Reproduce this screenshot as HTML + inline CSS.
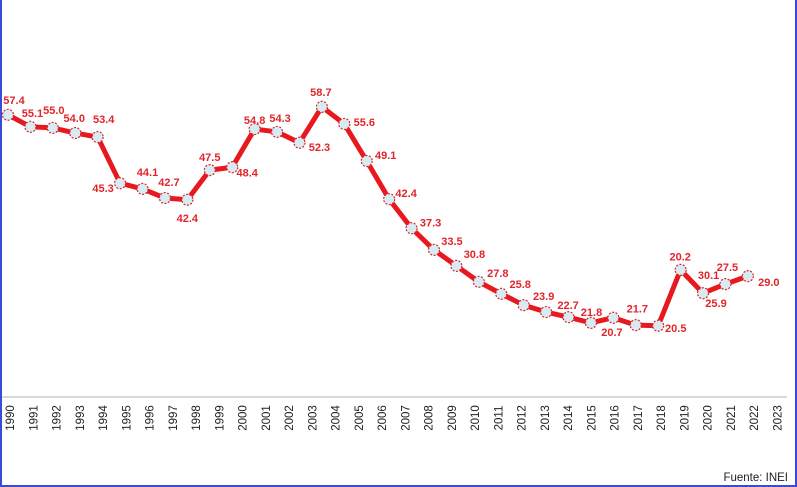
<!DOCTYPE html>
<html><head><meta charset="utf-8"><style>
html,body{margin:0;padding:0;background:#fff;}
svg{display:block;font-family:"Liberation Sans",sans-serif;}
</style></head><body>
<svg width="797" height="487" viewBox="0 0 797 487" xmlns="http://www.w3.org/2000/svg">
<rect x="0" y="0" width="797" height="487" fill="#fff"/>
<line x1="1" y1="0" x2="1" y2="487" stroke="#3b4bd8" stroke-width="2"/>
<line x1="796" y1="0" x2="796" y2="487" stroke="#3b4bd8" stroke-width="2"/>
<line x1="0" y1="486" x2="797" y2="486" stroke="#3b4bd8" stroke-width="2"/>
<line x1="2" y1="397" x2="787" y2="397" stroke="#d9d9d9" stroke-width="2"/>
<g id="xlabels"></g>
<g id="series"></g>
<g id="vlabels"></g>
<text x="788" y="481" text-anchor="end" font-size="11.5" fill="#222">Fuente: INEI</text>
</svg>
<script>
const years = ["1990","1991","1992","1993","1994","1995","1996","1997","1998","1999","2000","2001","2002","2003","2004","2005","2006","2007","2008","2009","2010","2011","2012","2013","2014","2015","2016","2017","2018","2019","2020","2021","2022","2023"];
const values = [57.4,55.3,55.1,54.2,53.5,45.4,44.4,42.8,42.5,47.7,48.2,54.9,54.4,52.5,58.8,55.8,49.3,42.6,37.5,33.7,30.9,28.1,26.0,24.0,22.8,21.9,20.9,21.8,20.5,20.4,30.2,26.1,27.7,29.1];
const valueLabels = ["57.4","55.1","55.0","54.0","53.4","45.3","44.1","42.7","42.4","47.5","48.4","54.8","54.3","52.3","58.7","55.6","49.1","42.4","37.3","33.5","30.8","27.8","25.8","23.9","22.7","21.8","20.7","21.7","20.5","20.2","30.1","25.9","27.5","29.0"];
// label placement offsets (style, relative to point)
const offs = [[6,-15],[2,-14],[1,-18],[-1,-15],[6,-18],[-17,5],[5,-17],[4,-16],[0,18],[0,-13],[15,5],[0,-9],[3,-14],[20,4],[-1,-15],[20,-2],[19,-6],[17,-6],[19,-6],[18,-9],[18,-12],[19,-9],[19,-10],[20,-9],[22,-7],[23,-5],[21,9],[24,-9],[40,3],[22,-69],[28,5],[13,10],[2,-17],[21,6]];
const NS="http://www.w3.org/2000/svg";
const xPt = i => 8 + i*22.42;
const xLab = i => 10 + i*23.25;
const yS = v => 442 - 5.7*v;
const xl=document.getElementById('xlabels');
years.forEach((y,i)=>{
  const t=document.createElementNS(NS,'text');
  
  
  t.setAttribute('transform',`translate(${xLab(i)+4},418) rotate(-90)`);
  t.setAttribute('text-anchor','middle');
  t.setAttribute('font-size','11.5');
  t.setAttribute('fill','#222');
  t.textContent=y; xl.appendChild(t);
});
const sg=document.getElementById('series');
const pts=values.map((v,i)=>xPt(i)+','+yS(v)).join(' ');
const pl=document.createElementNS(NS,'polyline');


pl.setAttribute('points',pts);
pl.setAttribute('fill','none');pl.setAttribute('stroke','#e8191e');pl.setAttribute('stroke-width','5');pl.setAttribute('stroke-linejoin','round');
sg.appendChild(pl);
values.forEach((v,i)=>{
  const c=document.createElementNS(NS,'circle');
  
  
  c.setAttribute('cx',xPt(i));c.setAttribute('cy',yS(v));c.setAttribute('r','5.5');
  c.setAttribute('fill','#d9ebf2');c.setAttribute('stroke','#d9232a');c.setAttribute('stroke-width','1.2');c.setAttribute('stroke-dasharray','2 1.5');
  sg.appendChild(c);
});
const vl=document.getElementById('vlabels');
valueLabels.forEach((s,i)=>{
  const t=document.createElementNS(NS,'text');
  
  
  t.setAttribute('x',xPt(i)+offs[i][0]);t.setAttribute('y',yS(values[i])+offs[i][1]+4);
  t.setAttribute('text-anchor','middle');t.setAttribute('font-size','11');t.setAttribute('font-weight','bold');t.setAttribute('fill','#e0262b');
  t.textContent=s; vl.appendChild(t);
});
</script>
</body></html>
